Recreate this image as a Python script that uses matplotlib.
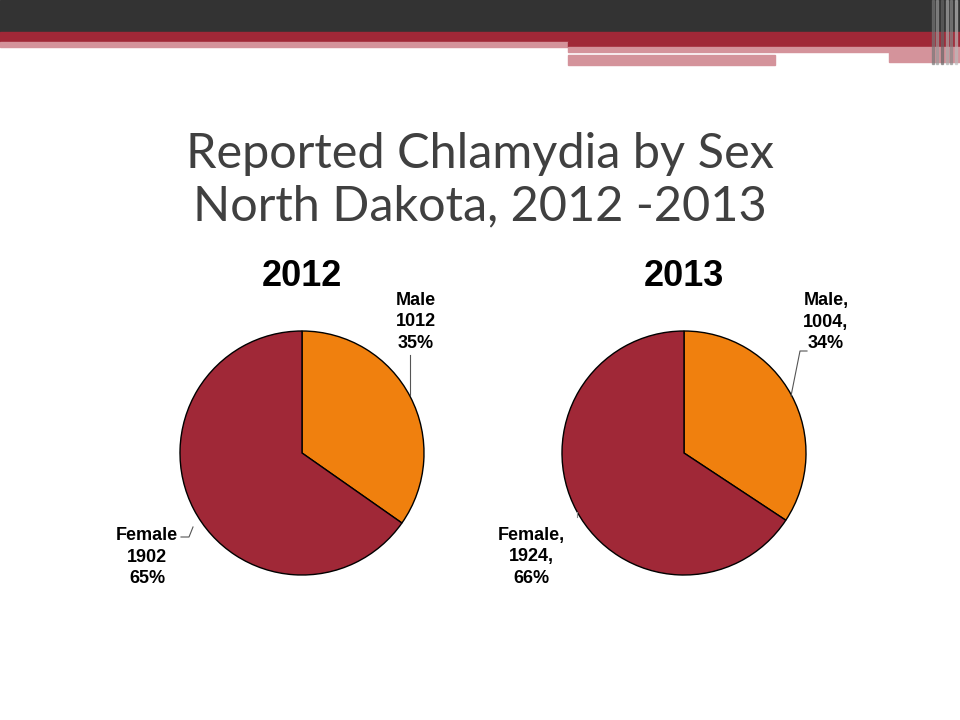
import matplotlib.pyplot as plt
from matplotlib.patches import Rectangle

# data
years = ['2012', '2013']
labels = ['Male', 'Female']
male = [1012, 1004]
female = [1902, 1924]
male_pct = ['35%', '34%']
female_pct = ['65%', '66%']

col_male = '#F0800E'
col_female = '#A02837'

fig = plt.figure(figsize=(9.6, 7.2), dpi=100)
ax = fig.add_axes([0, 0, 1, 1])

# pies, drawn in pixel space (y up)
centers = [(302, 720 - 453), (684, 720 - 453)]
R = 122
for i, yr in enumerate(years):
    ax.pie([male[i], female[i]], colors=[col_male, col_female], startangle=90,
           counterclock=False, center=centers[i], radius=R,
           wedgeprops=dict(edgecolor='black', linewidth=1.0))
    ax.text(centers[i][0], 720 - 276, yr, ha='center', va='center',
            fontsize=26, fontweight='bold', family='Liberation Sans')

lab_kw = dict(ha='center', va='center', fontsize=13, fontweight='bold',
              family='Liberation Sans', linespacing=1.35)

# 2012 labels
ax.text(416, 720 - 322, f'Male\n{male[0]}\n{male_pct[0]}', **lab_kw)
ax.plot([410, 410], [720 - 355, 720 - 395], color='#555555', lw=0.8)
ax.text(147, 720 - 557, f'Female\n{female[0]}\n{female_pct[0]}', **lab_kw)
ax.plot([181, 189, 193], [720 - 537, 720 - 537, 720 - 527], color='#555555', lw=0.8)

# 2013 labels
ax.text(826, 720 - 322, f'Male,\n{male[1]},\n{male_pct[1]}', **lab_kw)
ax.plot([807, 800, 791], [720 - 351, 720 - 351, 720 - 396], color='#555555', lw=0.8)
ax.text(531, 720 - 557, f'Female,\n{female[1]},\n{female_pct[1]}', **lab_kw)
ax.plot([577, 577], [720 - 512, 720 - 517], color='#888888', lw=0.8)

# header bands
ax.add_patch(Rectangle((0, 720 - 32), 960, 32, color='#333333', zorder=5))
ax.add_patch(Rectangle((0, 720 - 42), 960, 10, color='#A02837', zorder=5))
ax.add_patch(Rectangle((0, 720 - 47), 568, 5, color='#D4939B', zorder=5))
ax.add_patch(Rectangle((568, 720 - 47), 392, 5, color='#A02837', zorder=5))
ax.add_patch(Rectangle((568, 720 - 52), 392, 5, color='#D4939B', zorder=5))
ax.add_patch(Rectangle((889, 720 - 62), 71, 10, color='#D4939B', zorder=5))
ax.add_patch(Rectangle((568, 720 - 65), 207, 10, color='#D4939B', zorder=5))
for x, c in [(932, '#777777'), (936, '#999999'), (941, '#666666'), (946, '#aaaaaa'),
             (950, '#888888'), (955, '#bbbbbb')]:
    ax.add_patch(Rectangle((x, 720 - 64), 1.5, 64, color=c, alpha=0.6, zorder=6))

# title
ax.text(480, 720 - 180, 'Reported Chlamydia by Sex\nNorth Dakota, 2012 -2013',
        ha='center', va='center', fontsize=35, color='#404040',
        family='Lato', linespacing=1.25)

ax.set_xlim(0, 960)
ax.set_ylim(0, 720)
ax.set_aspect('auto')
ax.axis('off')

fig.savefig('out.png', dpi=100)
